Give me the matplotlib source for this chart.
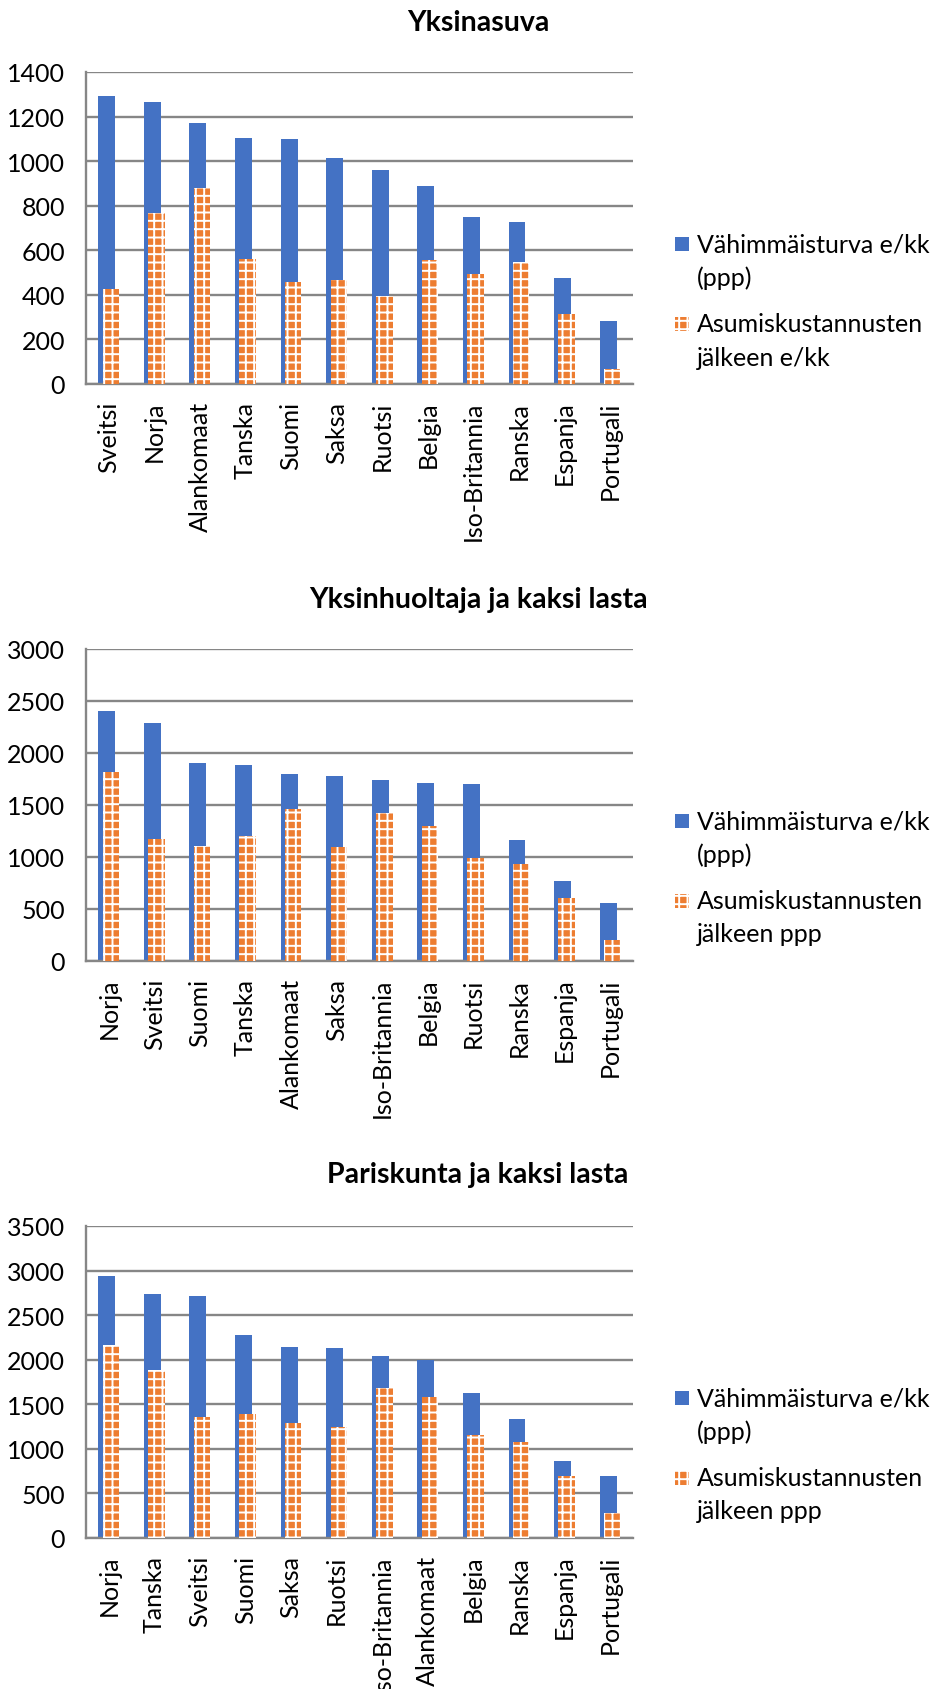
import numpy as np
import matplotlib.pyplot as plt
import matplotlib.patches as mpatches

plt.rcParams['font.family'] = ['Lato', 'DejaVu Sans']
plt.rcParams['hatch.linewidth'] = 1.4

# Yksinasuva
maat1 = ["Sveitsi", "Norja", "Alankomaat", "Tanska", "Suomi", "Saksa", "Ruotsi",
         "Belgia", "Iso-Britannia", "Ranska", "Espanja", "Portugali"]
turva1 = [1294, 1264, 1171, 1106, 1098, 1014, 962, 887, 751, 726, 475, 284]
asumis1 = [428, 768, 880, 561, 457, 468, 394, 555, 493, 546, 312, 69]

# Yksinhuoltaja ja kaksi lasta
maat2 = ["Norja", "Sveitsi", "Suomi", "Tanska", "Alankomaat", "Saksa", "Iso-Britannia",
         "Belgia", "Ruotsi", "Ranska", "Espanja", "Portugali"]
turva2 = [2406, 2287, 1906, 1881, 1797, 1777, 1745, 1713, 1706, 1168, 774, 558]
asumis2 = [1816, 1174, 1103, 1206, 1461, 1097, 1419, 1300, 990, 935, 603, 200]

# Pariskunta ja kaksi lasta
maat3 = ["Norja", "Tanska", "Sveitsi", "Suomi", "Saksa", "Ruotsi", "Iso-Britannia",
         "Alankomaat", "Belgia", "Ranska", "Espanja", "Portugali"]
turva3 = [2939, 2736, 2713, 2273, 2138, 2134, 2040, 1998, 1626, 1336, 869, 700]
asumis3 = [2164, 1885, 1355, 1396, 1295, 1249, 1682, 1581, 1159, 1076, 693, 275]

otsikot = ["Yksinasuva", "Yksinhuoltaja ja kaksi lasta", "Pariskunta ja kaksi lasta"]
selitteet = [["Vähimmäisturva e/kk\n(ppp)", "Asumiskustannusten\njälkeen e/kk"],
             ["Vähimmäisturva e/kk\n(ppp)", "Asumiskustannusten\njälkeen ppp"],
             ["Vähimmäisturva e/kk\n(ppp)", "Asumiskustannusten\njälkeen ppp"]]
ymax = [1400, 3000, 3500]
yaskel = [200, 500, 500]

maat = [maat1, maat2, maat3]
turvat = [turva1, turva2, turva3]
asumiset = [asumis1, asumis2, asumis3]

sininen = '#4472C4'
oranssi = '#ED7D31'
harmaa = '#868686'
koko = 18

W, H = 932, 1690
ylareuna = [73, 650, 1227]  # akselien yläreuna pikseleinä
otsikko_y = [23, 600, 1175]
selite_y = [172, 252]  # selitteiden ensimmäinen rivi akselin yläreunasta
rivivali = 33

fig = plt.figure(figsize=(W/100, H/100), dpi=100)

for i in range(3):
    ax = fig.add_axes([86/W, 1-(ylareuna[i]+312)/H, 547/W, 312/H])
    x = np.arange(len(maat[i]))
    b1 = ax.bar(x-0.045, turvat[i], 0.37, color=sininen, zorder=2)
    b2 = ax.bar(x+0.045, asumiset[i], 0.36, color=oranssi, edgecolor='white',
                linewidth=0, hatch='++', zorder=3)
    ax.set_xlim(-0.5, len(x)-0.5)
    ax.set_ylim(0, ymax[i])
    ax.set_yticks(np.arange(0, ymax[i]+1, yaskel[i]))
    ax.set_xticks(x)
    ax.set_xticklabels(maat[i], rotation=90)
    ax.yaxis.grid(True, color=harmaa, lw=1.7)
    ax.set_axisbelow(True)
    ax.spines['top'].set_visible(False)
    ax.spines['right'].set_visible(False)
    ax.spines['left'].set_color(harmaa)
    ax.spines['bottom'].set_color(harmaa)
    ax.spines['left'].set_linewidth(1.7)
    ax.spines['bottom'].set_linewidth(1.7)
    ax.tick_params(axis='y', length=0, pad=15, labelsize=koko)
    ax.tick_params(axis='x', length=0, pad=12, labelsize=koko)

    fig.text(478/W, 1-otsikko_y[i]/H, otsikot[i], ha='center', va='center',
             fontsize=20.5, fontweight='bold')

    # selite: neliö ensimmäisen rivin kohdalle, teksti kahdelle riville
    for j, b in enumerate([b1, b2]):
        yy = ylareuna[i] + selite_y[j]
        p = b.patches[0]
        nelio = mpatches.Rectangle((675/W, 1-(yy+7)/H), 14/W, 14/H,
                                   transform=fig.transFigure,
                                   facecolor=p.get_facecolor(), edgecolor='white',
                                   linewidth=0, hatch=p.get_hatch())
        fig.patches.append(nelio)
        for k, rivi in enumerate(selitteet[i][j].split("\n")):
            fig.text(697/W, 1-(yy+k*rivivali)/H, rivi, ha='left', va='center',
                     fontsize=koko)

fig.savefig('out.png', dpi=100)
